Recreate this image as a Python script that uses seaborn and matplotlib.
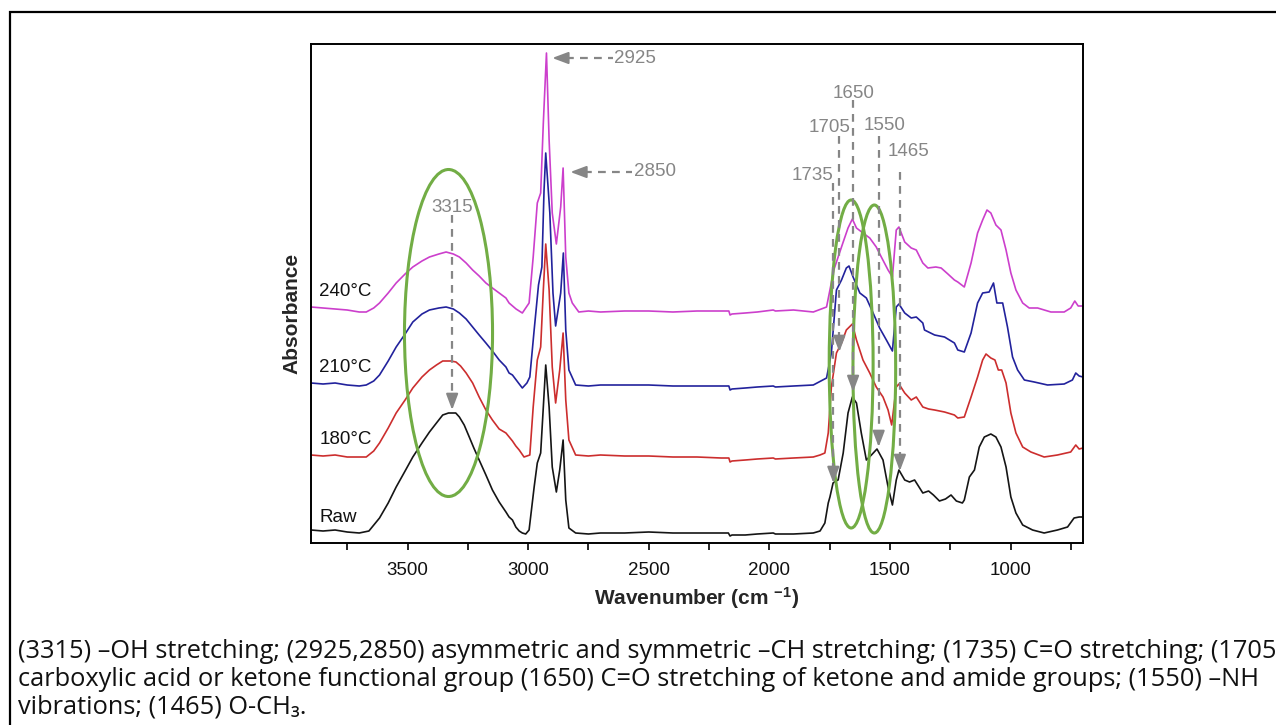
import matplotlib
matplotlib.use("Agg")
import matplotlib.pyplot as plt
import pandas as pd
import seaborn as sns
from matplotlib.patches import Ellipse, Rectangle
from matplotlib.ticker import MultipleLocator

# FTIR spectra (wavenumber in cm-1, absorbance in arbitrary stacked units)
wn_raw = [3900, 3850, 3800, 3750, 3700, 3660, 3616, 3580, 3547, 3510, 3478, 3440, 3409, 3380,
          3354, 3330, 3300, 3285, 3265, 3244, 3225, 3203, 3175, 3148, 3120, 3092, 3079, 3065,
          3051, 3037, 3024, 3010, 2996, 2975, 2962, 2948, 2937, 2927, 2913, 2900, 2883, 2869,
          2855, 2844, 2831, 2803, 2750, 2700, 2600, 2500, 2400, 2300, 2200, 2170, 2163, 2155,
          2100, 2050, 1984, 1975, 1900, 1818, 1790, 1770, 1756, 1749, 1736, 1725, 1715, 1694,
          1674, 1656, 1639, 1619, 1598, 1577, 1554, 1529, 1508, 1490, 1474, 1463, 1439, 1419,
          1398, 1364, 1340, 1320, 1295, 1270, 1247, 1225, 1200, 1192, 1171, 1150, 1130, 1109,
          1082, 1061, 1040, 1019, 999, 978, 950, 909, 861, 806, 764, 737, 716, 700]
ab_raw = [0.13, 0.12, 0.13, 0.11, 0.10, 0.12, 0.25, 0.40, 0.56, 0.72, 0.86, 1.00, 1.11, 1.20,
          1.28, 1.30, 1.30, 1.26, 1.18, 1.06, 0.95, 0.83, 0.68, 0.53, 0.41, 0.31, 0.26, 0.23,
          0.16, 0.12, 0.10, 0.09, 0.13, 0.56, 0.80, 0.90, 1.36, 1.78, 1.36, 0.76, 0.51, 0.73,
          1.03, 0.43, 0.15, 0.10, 0.09, 0.10, 0.10, 0.11, 0.10, 0.10, 0.10, 0.10, 0.07, 0.08,
          0.08, 0.09, 0.10, 0.09, 0.09, 0.10, 0.12, 0.20, 0.40, 0.46, 0.60, 0.62, 0.63, 0.90,
          1.30, 1.46, 1.40, 1.10, 0.83, 0.88, 0.94, 0.83, 0.56, 0.38, 0.63, 0.73, 0.63, 0.61,
          0.63, 0.50, 0.52, 0.48, 0.42, 0.44, 0.48, 0.42, 0.40, 0.43, 0.66, 0.73, 0.96, 1.06,
          1.09, 1.06, 0.96, 0.76, 0.46, 0.30, 0.18, 0.13, 0.10, 0.13, 0.16, 0.25, 0.26, 0.26]

wn_180 = [3900, 3850, 3800, 3750, 3700, 3671, 3640, 3616, 3580, 3547, 3510, 3478, 3440, 3409,
          3380, 3354, 3320, 3299, 3280, 3257, 3230, 3203, 3175, 3148, 3120, 3092, 3065, 3051,
          3037, 3017, 2993, 2979, 2962, 2948, 2937, 2927, 2913, 2900, 2886, 2869, 2855, 2844,
          2831, 2803, 2750, 2700, 2600, 2500, 2400, 2300, 2200, 2168, 2163, 2155, 2100, 2050,
          1984, 1975, 1900, 1818, 1790, 1770, 1756, 1743, 1722, 1701, 1681, 1656, 1639, 1612,
          1584, 1557, 1529, 1508, 1493, 1474, 1463, 1439, 1412, 1391, 1364, 1340, 1315, 1274,
          1233, 1219, 1192, 1164, 1137, 1116, 1102, 1082, 1065, 1051, 1037, 1019, 999, 978,
          950, 916, 861, 806, 751, 730, 716, 700]
ab_180 = [0.88, 0.87, 0.88, 0.86, 0.86, 0.86, 0.92, 1.00, 1.15, 1.30, 1.43, 1.55, 1.66, 1.73,
          1.78, 1.82, 1.82, 1.81, 1.77, 1.70, 1.60, 1.46, 1.33, 1.23, 1.14, 1.10, 1.02, 0.97,
          0.93, 0.86, 0.88, 1.36, 1.83, 1.96, 2.53, 2.99, 2.53, 1.76, 1.40, 1.73, 2.10, 1.43,
          1.03, 0.88, 0.87, 0.88, 0.87, 0.87, 0.86, 0.86, 0.85, 0.85, 0.81, 0.82, 0.83, 0.84,
          0.85, 0.84, 0.85, 0.86, 0.88, 0.90, 1.10, 1.56, 1.90, 2.00, 2.13, 2.19, 2.03, 1.83,
          1.70, 1.56, 1.46, 1.33, 1.18, 1.56, 1.59, 1.50, 1.43, 1.46, 1.36, 1.34, 1.33, 1.31,
          1.28, 1.25, 1.26, 1.46, 1.66, 1.83, 1.89, 1.85, 1.83, 1.73, 1.73, 1.60, 1.30, 1.10,
          0.96, 0.91, 0.86, 0.88, 0.91, 0.98, 0.94, 0.95]

wn_210 = [3900, 3850, 3800, 3750, 3700, 3671, 3640, 3616, 3580, 3547, 3510, 3478, 3440, 3409,
          3370, 3340, 3310, 3285, 3257, 3230, 3203, 3175, 3148, 3120, 3092, 3079, 3065, 3040,
          3024, 3005, 2993, 2975, 2957, 2943, 2934, 2927, 2910, 2897, 2886, 2865, 2854, 2844,
          2831, 2803, 2750, 2700, 2600, 2500, 2400, 2300, 2200, 2168, 2163, 2155, 2100, 2050,
          1984, 1975, 1900, 1818, 1763, 1743, 1722, 1701, 1681, 1670, 1653, 1625, 1598, 1570,
          1543, 1515, 1490, 1474, 1463, 1439, 1412, 1391, 1364, 1357, 1315, 1274, 1233, 1219,
          1192, 1164, 1137, 1116, 1089, 1071, 1057, 1033, 1013, 992, 971, 943, 902, 847, 778,
          744, 730, 716, 700]
ab_210 = [1.60, 1.59, 1.60, 1.58, 1.57, 1.58, 1.62, 1.68, 1.82, 1.96, 2.09, 2.21, 2.29, 2.33,
          2.35, 2.36, 2.34, 2.30, 2.24, 2.16, 2.08, 2.00, 1.92, 1.83, 1.76, 1.70, 1.68, 1.60,
          1.55, 1.60, 1.66, 2.13, 2.58, 2.76, 3.53, 3.90, 3.30, 2.50, 2.17, 2.50, 2.90, 2.13,
          1.73, 1.58, 1.57, 1.58, 1.58, 1.58, 1.57, 1.57, 1.57, 1.57, 1.53, 1.54, 1.55, 1.56,
          1.57, 1.56, 1.57, 1.58, 1.65, 1.90, 2.53, 2.63, 2.75, 2.77, 2.66, 2.50, 2.45, 2.30,
          2.15, 2.03, 1.92, 2.36, 2.39, 2.30, 2.25, 2.26, 2.20, 2.13, 2.08, 2.06, 2.00, 1.93,
          1.91, 2.10, 2.40, 2.50, 2.51, 2.60, 2.40, 2.40, 2.16, 1.86, 1.73, 1.63, 1.61, 1.58, 1.59,
          1.63, 1.70, 1.67, 1.66]

wn_240 = [3900, 3850, 3800, 3750, 3700, 3671, 3640, 3616, 3580, 3547, 3510, 3478, 3440, 3409,
          3370, 3340, 3310, 3285, 3257, 3230, 3203, 3175, 3148, 3120, 3092, 3079, 3050, 3024,
          2996, 2979, 2962, 2948, 2937, 2924, 2913, 2900, 2883, 2865, 2855, 2844, 2831, 2817,
          2790, 2750, 2700, 2600, 2500, 2400, 2300, 2200, 2168, 2163, 2155, 2100, 2050, 1984,
          1975, 1900, 1818, 1763, 1749, 1733, 1715, 1694, 1674, 1656, 1639, 1612, 1584, 1557,
          1536, 1508, 1490, 1474, 1463, 1439, 1412, 1391, 1364, 1343, 1310, 1288, 1260, 1233,
          1219, 1192, 1164, 1137, 1116, 1098, 1082, 1061, 1040, 1019, 999, 978, 950, 923, 888,
          833, 778, 751, 734, 720, 700]
ab_240 = [2.36, 2.35, 2.34, 2.33, 2.31, 2.31, 2.35, 2.40, 2.50, 2.60, 2.69, 2.76, 2.82, 2.86,
          2.89, 2.91, 2.89, 2.86, 2.80, 2.73, 2.67, 2.60, 2.55, 2.50, 2.45, 2.40, 2.34, 2.30,
          2.40, 2.86, 3.40, 3.50, 4.20, 4.90, 4.03, 3.30, 2.99, 3.36, 3.75, 2.86, 2.50, 2.40,
          2.31, 2.32, 2.31, 2.32, 2.32, 2.31, 2.32, 2.32, 2.32, 2.28, 2.29, 2.30, 2.31, 2.33,
          2.32, 2.33, 2.31, 2.36, 2.53, 2.73, 2.86, 3.01, 3.15, 3.24, 3.15, 3.10, 3.05, 2.96,
          2.86, 2.73, 2.66, 3.13, 3.16, 3.01, 2.95, 2.93, 2.80, 2.75, 2.76, 2.75, 2.69, 2.63,
          2.61, 2.56, 2.80, 3.10, 3.23, 3.33, 3.30, 3.18, 3.13, 2.93, 2.70, 2.53, 2.40, 2.35, 2.35,
          2.31, 2.31, 2.35, 2.42, 2.37, 2.37]

samples = ["Raw", "180°C", "210°C", "240°C"]
colors = ["#151515", "#cc2e2e", "#22229c", "#cc3fcc"]
label_y = [0.26, 1.04, 1.76, 2.51]

# assigned bands (cm-1)
bands_vertical = [3315, 1735, 1705, 1650, 1550, 1465]
bands_side = [2925, 2850]

caption = [
    "(3315) \u2013OH stretching; (2925,2850) asymmetric and symmetric \u2013CH stretching; "
    "(1735) C=O stretching; (1705",
    "carboxylic acid or ketone functional group (1650) C=O stretching of ketone and amide "
    "groups; (1550) \u2013NH",
    "vibrations; (1465) O-CH\u2083.",
]

df = pd.concat([
    pd.DataFrame({"wavenumber": wn_raw, "absorbance": ab_raw, "sample": "Raw"}),
    pd.DataFrame({"wavenumber": wn_180, "absorbance": ab_180, "sample": "180°C"}),
    pd.DataFrame({"wavenumber": wn_210, "absorbance": ab_210, "sample": "210°C"}),
    pd.DataFrame({"wavenumber": wn_240, "absorbance": ab_240, "sample": "240°C"}),
])

sns.set_theme(style="white")
plt.rcParams["font.family"] = ["Liberation Sans", "DejaVu Sans"]
plt.rcParams["mathtext.fontset"] = "custom"
plt.rcParams["mathtext.rm"] = "Liberation Sans"
plt.rcParams["mathtext.bf"] = "Liberation Sans:bold"
plt.rcParams["mathtext.it"] = "Liberation Sans:italic"

W, H = 1276, 725
fig = plt.figure(figsize=(W / 100, H / 100), dpi=100)
ax = fig.add_axes([311 / W, 1 - 543 / H, (1083 - 311) / W, (543 - 44) / H])

sns.lineplot(data=df, x="wavenumber", y="absorbance", hue="sample", hue_order=samples,
             palette=colors, estimator=None, legend=False, lw=1.2, ax=ax)

ax.set_xlim(3900, 700)
ax.set_ylim(0, 4.99)
ax.set_yticks([])
ax.xaxis.set_major_locator(MultipleLocator(500))
ax.xaxis.set_minor_locator(MultipleLocator(250))
ax.tick_params(axis="x", which="both", bottom=True, direction="out", length=5, width=1.2,
               color="black", labelsize=13.5, pad=9, labelcolor="#111111")
for sp in ax.spines.values():
    sp.set_color("black")
    sp.set_linewidth(1.4)

ax.set_xlabel(r"Wavenumber (cm $^{\mathbf{-1}}$)", fontsize=15, fontweight="bold")
ax.xaxis.set_label_coords(0.5, -0.085)
ax.set_ylabel("Absorbance", fontsize=15, fontweight="bold")
ax.yaxis.set_label_coords(-0.012, 0.46)

for name, c, y in zip(samples, colors, label_y):
    ax.text(3865, y, name, fontsize=13.5, color="#111111", ha="left", va="center")

# green ellipses around the regions of interest
green = "#72ad45"
for cx, cy, w, h in [(3330, 2.10, 365, 3.27), (1661, 1.79, 182, 3.28), (1565, 1.74, 177, 3.28)]:
    ax.add_patch(Ellipse((cx, cy), w, h, fill=False, ec=green, lw=2.2, zorder=4))

# dashed grey arrows
grey = "#868686"
dash = (0, (3.5, 2.8))
head = dict(arrowstyle="-|>,head_length=0.8,head_width=0.3", color=grey, lw=1.5,
            shrinkA=0, shrinkB=0)
v_text = {3315: (3315, 3.36, "center"), 1735: (1733, 3.67, "right"),
          1705: (1750, 4.16, "center"), 1650: (1651, 4.50, "center"),
          1550: (1522, 4.17, "center"), 1465: (1423, 3.91, "center")}
v_line = {3315: (3315, 3.28, 1.33), 1735: (1735, 3.60, 0.60), 1705: (1710, 4.07, 1.91),
          1650: (1653, 4.43, 1.51), 1550: (1547, 4.07, 0.96), 1465: (1459, 3.71, 0.72)}
for b in bands_vertical:
    tx, ty, ha = v_text[b]
    ax.text(tx, ty, str(b), fontsize=13.5, color=grey, ha=ha, va="center", zorder=5)
    x, y0, y1 = v_line[b]
    ax.plot([x, x], [y0, y1 + 0.1], color=grey, lw=1.6, ls=dash, zorder=5)
    ax.annotate("", xy=(x, y1), xytext=(x, y1 + 0.12), arrowprops=head, zorder=5)

h_arrow = {2925: (2900, 2845, 2650, 4.85), 2850: (2825, 2770, 2570, 3.71)}
for b in bands_side:
    tip, base, end, y = h_arrow[b]
    ax.annotate("", xy=(tip, y), xytext=(base, y), arrowprops=head, zorder=5)
    ax.plot([base, end], [y, y], color=grey, lw=1.6, ls=dash, zorder=5)
    ax.text(end - 8, y, str(b), fontsize=13.5, color=grey, ha="left", va="center", zorder=5)

# caption under the figure
for i, line in enumerate(caption):
    fig.text(18 / W, 1 - (652 + 27.5 * i) / H, line, fontsize=18.3, color="#111111",
             family=["Open Sans", "DejaVu Sans"], ha="left", va="center")

# outer frame (runs off the right and bottom edges)
fig.patches.append(Rectangle((10 / W, -0.5), 2, 1 - 12 / H + 0.5, transform=fig.transFigure,
                             fill=False, ec="black", lw=1.6))

fig.savefig("out.png", dpi=100)
